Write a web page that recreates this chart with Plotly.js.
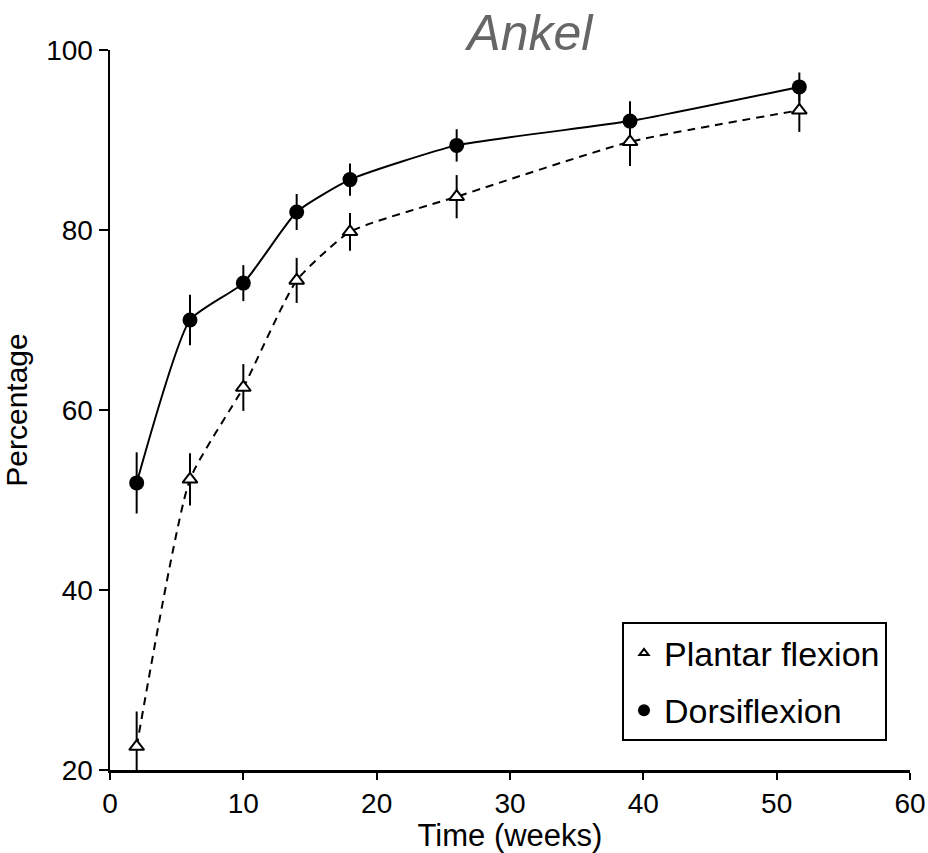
<!DOCTYPE html>
<html>
<head>
<meta charset="utf-8">
<script src="https://cdn.plot.ly/plotly-3.0.1.min.js"></script>
<style>html,body{margin:0;padding:0;background:#fff;}#chart{width:928px;height:853px;}</style>
</head>
<body>
<div id="chart"></div>
<script>
const weeks = [2, 6, 10, 14, 18, 26, 39, 51.7];
const dorsiflexion = [51.9, 70.0, 74.1, 82.0, 85.6, 89.4, 92.1, 95.9];
const dorsiflexionErr = [3.4, 2.8, 2.0, 2.0, 1.8, 1.8, 2.2, 1.6];
const plantarFlexion = [22.6, 52.3, 62.5, 74.4, 79.8, 83.7, 89.8, 93.3];
const plantarFlexionErr = [3.9, 2.9, 2.6, 2.5, 2.1, 2.4, 2.7, 2.4];
const seriesNames = ["Plantar flexion", "Dorsiflexion"];
const xTicks = [0, 10, 20, 30, 40, 50, 60];
const yTicks = [20, 40, 60, 80, 100];

const font = "Liberation Sans, Arial, Helvetica, sans-serif";

const traces = [
  {
    x: weeks, y: dorsiflexion, type: "scatter", mode: "lines+markers",
    name: seriesNames[1], showlegend: false, cliponaxis: false,
    line: {color: "#000", width: 2, shape: "spline", smoothing: 0.5},
    marker: {symbol: "circle", size: 15, color: "#000"},
    error_y: {type: "data", array: dorsiflexionErr, visible: true, color: "#000", thickness: 2, width: 0}
  },
  {
    x: weeks, y: plantarFlexion, type: "scatter", mode: "lines+markers",
    name: seriesNames[0], showlegend: false, cliponaxis: false,
    line: {color: "#000", width: 2, dash: "8px,6px", shape: "spline", smoothing: 0.5},
    marker: {symbol: "triangle-up", size: 13, color: "#fff", line: {color: "#000", width: 2}},
    error_y: {type: "data", array: plantarFlexionErr, visible: true, color: "#000", thickness: 2, width: 0}
  },
  {
    x: [null], y: [null], type: "scatter", mode: "markers", name: seriesNames[0],
    legendgroup: "a",
    marker: {symbol: "triangle-up", size: 8, color: "#fff", line: {color: "#000", width: 2}}
  },
  {
    x: [null], y: [null], type: "scatter", mode: "markers", name: seriesNames[1],
    legendgroup: "b",
    marker: {symbol: "circle", size: 12, color: "#000"}
  }
];

const layout = {
  width: 928, height: 853,
  margin: {l: 110, r: 18, t: 50, b: 83},
  paper_bgcolor: "#fff", plot_bgcolor: "#fff",
  font: {family: font, color: "#000", size: 26},
  title: {
    text: "<i>Ankel</i>", x: 0.571, xanchor: "center", xref: "container",
    y: 0.982, yanchor: "top", yref: "container",
    font: {family: font, size: 50, color: "#666"}
  },
  showlegend: true,
  legend: {
    x: 0.64, y: 0.205, xanchor: "left", yanchor: "top",
    bordercolor: "#000", borderwidth: 2, bgcolor: "#fff",
    font: {family: font, size: 34, color: "#000"},
    traceorder: "grouped", tracegroupgap: 10,
    itemsizing: "trace"
  },
  xaxis: {
    range: [0, 60], tickvals: xTicks, ticktext: xTicks.map(String),
    showgrid: false, zeroline: false, showline: true, linecolor: "#000", linewidth: 2.5,
    ticks: "outside", ticklen: 7, tickwidth: 2, tickcolor: "#000",
    tickfont: {family: font, size: 28, color: "#000"},
    title: {text: "Time (weeks)", font: {family: font, size: 31, color: "#000"}, standoff: 6},
    fixedrange: true
  },
  yaxis: {
    range: [20, 100], tickvals: yTicks, ticktext: yTicks.map(String),
    showgrid: false, zeroline: false, showline: true, linecolor: "#000", linewidth: 2.5,
    ticks: "outside", ticklen: 9, tickwidth: 2, tickcolor: "#000",
    tickfont: {family: font, size: 28, color: "#000"},
    title: {text: "Percentage", font: {family: font, size: 30, color: "#000"}, standoff: 12},
    fixedrange: true
  }
};

Plotly.newPlot("chart", traces, layout, {displayModeBar: false, staticPlot: true});
</script>
</body>
</html>
